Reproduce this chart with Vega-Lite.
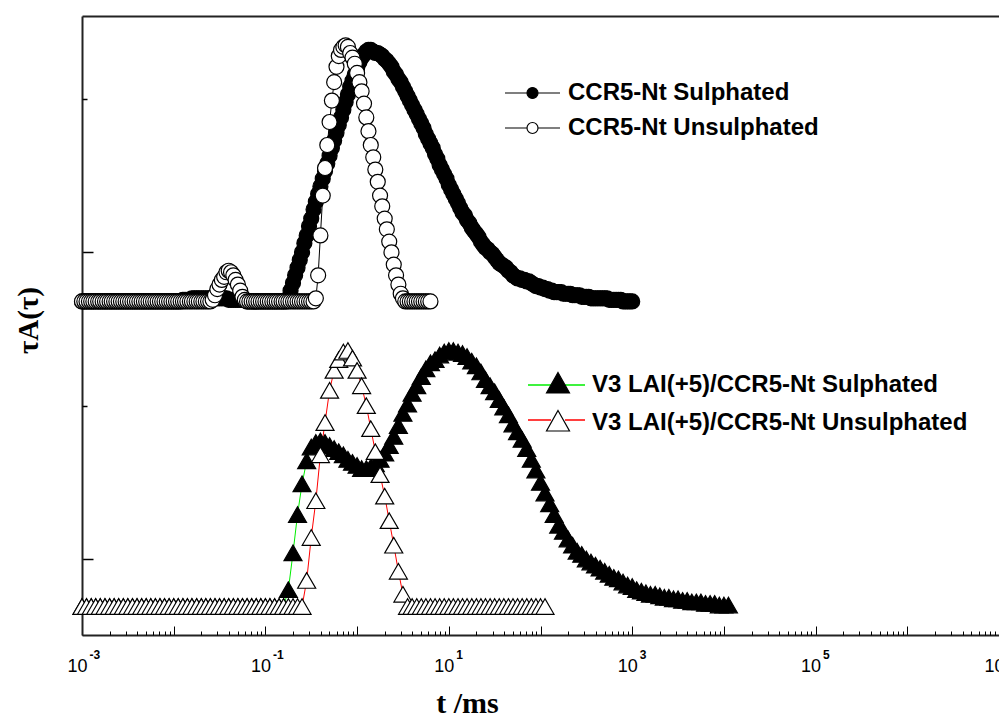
{
"$schema": "https://vega.github.io/schema/vega-lite/v6.json",
"width": 917, "height": 619,
"autosize": {"type": "none"},
"padding": {"left": 82, "top": 16, "right": 0, "bottom": 84},
"background": "white",
"config": {
 "view": {"stroke": null},
 "axis": {"grid": false, "tickColor": "black", "labelColor": "black", "titleColor": "black", "domainColor": "#222"},
 "legend": {"labelFont": "Liberation Sans", "labelFontWeight": "bold", "labelFontSize": 24, "labelColor": "black", "padding": 0, "rowPadding": 11, "symbolSize": 400, "symbolStrokeWidth": 1, "symbolOffset": 0, "labelLimit": 600, "orient": "none", "titlePadding": 0}
},
"data": {"values": [
{"s":"A","t":1e-3,"v":1.68},{"s":"A","t":1.06e-3,"v":1.68},{"s":"A","t":1.12e-3,"v":1.68},{"s":"A","t":1.19e-3,"v":1.68},{"s":"A","t":1.26e-3,"v":1.68},{"s":"A","t":1.33e-3,"v":1.68},{"s":"A","t":1.41e-3,"v":1.68},{"s":"A","t":1.5e-3,"v":1.68},{"s":"A","t":1.58e-3,"v":1.68},{"s":"A","t":1.68e-3,"v":1.68},
{"s":"A","t":1.78e-3,"v":1.68},{"s":"A","t":1.88e-3,"v":1.68},{"s":"A","t":2e-3,"v":1.68},{"s":"A","t":2.11e-3,"v":1.68},{"s":"A","t":2.24e-3,"v":1.68},{"s":"A","t":2.37e-3,"v":1.68},{"s":"A","t":2.51e-3,"v":1.68},{"s":"A","t":2.66e-3,"v":1.68},{"s":"A","t":2.82e-3,"v":1.68},{"s":"A","t":2.99e-3,"v":1.68},
{"s":"A","t":3.16e-3,"v":1.68},{"s":"A","t":3.35e-3,"v":1.68},{"s":"A","t":3.55e-3,"v":1.68},{"s":"A","t":3.76e-3,"v":1.68},{"s":"A","t":3.98e-3,"v":1.68},{"s":"A","t":4.22e-3,"v":1.68},{"s":"A","t":4.47e-3,"v":1.68},{"s":"A","t":4.73e-3,"v":1.68},{"s":"A","t":5.01e-3,"v":1.68},{"s":"A","t":5.31e-3,"v":1.68},
{"s":"A","t":5.62e-3,"v":1.68},{"s":"A","t":5.96e-3,"v":1.68},{"s":"A","t":6.31e-3,"v":1.68},{"s":"A","t":6.68e-3,"v":1.68},{"s":"A","t":7.08e-3,"v":1.68},{"s":"A","t":7.5e-3,"v":1.68},{"s":"A","t":7.94e-3,"v":1.68},{"s":"A","t":8.41e-3,"v":1.68},{"s":"A","t":8.91e-3,"v":1.68},{"s":"A","t":9.44e-3,"v":1.68},
{"s":"A","t":1e-2,"v":1.68},{"s":"A","t":1.06e-2,"v":1.68},{"s":"A","t":1.12e-2,"v":1.68},{"s":"A","t":1.19e-2,"v":1.68},{"s":"A","t":1.26e-2,"v":1.69},{"s":"A","t":1.33e-2,"v":1.69},{"s":"A","t":1.41e-2,"v":1.69},{"s":"A","t":1.5e-2,"v":1.69},{"s":"A","t":1.58e-2,"v":1.70},{"s":"A","t":1.68e-2,"v":1.70},
{"s":"A","t":1.78e-2,"v":1.70},{"s":"A","t":1.88e-2,"v":1.70},{"s":"A","t":2e-2,"v":1.70},{"s":"A","t":2.11e-2,"v":1.70},{"s":"A","t":2.24e-2,"v":1.70},{"s":"A","t":2.37e-2,"v":1.70},{"s":"A","t":2.51e-2,"v":1.70},{"s":"A","t":2.66e-2,"v":1.70},{"s":"A","t":2.82e-2,"v":1.70},{"s":"A","t":2.99e-2,"v":1.70},
{"s":"A","t":3.16e-2,"v":1.70},{"s":"A","t":3.35e-2,"v":1.70},{"s":"A","t":3.55e-2,"v":1.70},{"s":"A","t":3.76e-2,"v":1.70},{"s":"A","t":3.98e-2,"v":1.69},{"s":"A","t":4.22e-2,"v":1.69},{"s":"A","t":4.47e-2,"v":1.69},{"s":"A","t":4.73e-2,"v":1.69},{"s":"A","t":5.01e-2,"v":1.69},{"s":"A","t":5.31e-2,"v":1.69},
{"s":"A","t":5.62e-2,"v":1.69},{"s":"A","t":5.96e-2,"v":1.69},{"s":"A","t":6.31e-2,"v":1.68},{"s":"A","t":6.68e-2,"v":1.68},{"s":"A","t":7.08e-2,"v":1.68},{"s":"A","t":7.5e-2,"v":1.68},{"s":"A","t":7.94e-2,"v":1.68},{"s":"A","t":8.41e-2,"v":1.68},{"s":"A","t":8.91e-2,"v":1.68},{"s":"A","t":9.44e-2,"v":1.68},
{"s":"A","t":1e-1,"v":1.68},{"s":"A","t":1.06e-1,"v":1.68},{"s":"A","t":1.12e-1,"v":1.68},{"s":"A","t":1.19e-1,"v":1.68},{"s":"A","t":1.26e-1,"v":1.68},{"s":"A","t":1.33e-1,"v":1.68},{"s":"A","t":1.41e-1,"v":1.68},{"s":"A","t":1.5e-1,"v":1.68},{"s":"A","t":1.58e-1,"v":1.68},{"s":"A","t":1.68e-1,"v":1.68},
{"s":"A","t":1.78e-1,"v":1.70},{"s":"A","t":1.88e-1,"v":1.75},{"s":"A","t":2e-1,"v":1.80},{"s":"A","t":2.11e-1,"v":1.85},{"s":"A","t":2.24e-1,"v":1.90},{"s":"A","t":2.37e-1,"v":1.95},{"s":"A","t":2.51e-1,"v":2.00},{"s":"A","t":2.66e-1,"v":2.06},{"s":"A","t":2.82e-1,"v":2.11},{"s":"A","t":2.99e-1,"v":2.17},
{"s":"A","t":3.16e-1,"v":2.22},{"s":"A","t":3.35e-1,"v":2.28},{"s":"A","t":3.55e-1,"v":2.33},{"s":"A","t":3.76e-1,"v":2.38},{"s":"A","t":3.98e-1,"v":2.43},{"s":"A","t":4.22e-1,"v":2.48},{"s":"A","t":4.47e-1,"v":2.53},{"s":"A","t":4.73e-1,"v":2.58},{"s":"A","t":5.01e-1,"v":2.63},{"s":"A","t":5.31e-1,"v":2.68},
{"s":"A","t":5.62e-1,"v":2.73},{"s":"A","t":5.96e-1,"v":2.78},{"s":"A","t":6.31e-1,"v":2.83},{"s":"A","t":6.68e-1,"v":2.88},{"s":"A","t":7.08e-1,"v":2.93},{"s":"A","t":7.5e-1,"v":2.98},{"s":"A","t":7.94e-1,"v":3.03},{"s":"A","t":8.41e-1,"v":3.08},{"s":"A","t":8.91e-1,"v":3.12},{"s":"A","t":9.44e-1,"v":3.16},
{"s":"A","t":1e0,"v":3.20},{"s":"A","t":1.06e0,"v":3.24},{"s":"A","t":1.12e0,"v":3.27},{"s":"A","t":1.19e0,"v":3.29},{"s":"A","t":1.26e0,"v":3.31},{"s":"A","t":1.33e0,"v":3.32},{"s":"A","t":1.41e0,"v":3.32},{"s":"A","t":1.5e0,"v":3.31},{"s":"A","t":1.58e0,"v":3.30},{"s":"A","t":1.68e0,"v":3.30},
{"s":"A","t":1.78e0,"v":3.29},{"s":"A","t":1.88e0,"v":3.28},{"s":"A","t":2e0,"v":3.26},{"s":"A","t":2.11e0,"v":3.25},{"s":"A","t":2.24e0,"v":3.23},{"s":"A","t":2.37e0,"v":3.21},{"s":"A","t":2.51e0,"v":3.18},{"s":"A","t":2.66e0,"v":3.16},{"s":"A","t":2.82e0,"v":3.13},{"s":"A","t":2.99e0,"v":3.11},
{"s":"A","t":3.16e0,"v":3.08},{"s":"A","t":3.35e0,"v":3.05},{"s":"A","t":3.55e0,"v":3.02},{"s":"A","t":3.76e0,"v":2.99},{"s":"A","t":3.98e0,"v":2.96},{"s":"A","t":4.22e0,"v":2.93},{"s":"A","t":4.47e0,"v":2.90},{"s":"A","t":4.73e0,"v":2.87},{"s":"A","t":5.01e0,"v":2.84},{"s":"A","t":5.31e0,"v":2.81},
{"s":"A","t":5.62e0,"v":2.77},{"s":"A","t":5.96e0,"v":2.74},{"s":"A","t":6.31e0,"v":2.71},{"s":"A","t":6.68e0,"v":2.68},{"s":"A","t":7.08e0,"v":2.64},{"s":"A","t":7.5e0,"v":2.61},{"s":"A","t":7.94e0,"v":2.57},{"s":"A","t":8.41e0,"v":2.54},{"s":"A","t":8.91e0,"v":2.51},{"s":"A","t":9.44e0,"v":2.48},
{"s":"A","t":1e1,"v":2.44},{"s":"A","t":1.06e1,"v":2.41},{"s":"A","t":1.12e1,"v":2.38},{"s":"A","t":1.19e1,"v":2.35},{"s":"A","t":1.26e1,"v":2.32},{"s":"A","t":1.33e1,"v":2.29},{"s":"A","t":1.41e1,"v":2.26},{"s":"A","t":1.5e1,"v":2.24},{"s":"A","t":1.58e1,"v":2.21},{"s":"A","t":1.68e1,"v":2.19},
{"s":"A","t":1.78e1,"v":2.16},{"s":"A","t":1.88e1,"v":2.14},{"s":"A","t":2e1,"v":2.12},{"s":"A","t":2.11e1,"v":2.10},{"s":"A","t":2.24e1,"v":2.07},{"s":"A","t":2.37e1,"v":2.05},{"s":"A","t":2.51e1,"v":2.03},{"s":"A","t":2.66e1,"v":2.02},{"s":"A","t":2.82e1,"v":2.00},{"s":"A","t":2.99e1,"v":1.99},
{"s":"A","t":3.16e1,"v":1.97},{"s":"A","t":3.35e1,"v":1.95},{"s":"A","t":3.55e1,"v":1.93},{"s":"A","t":3.76e1,"v":1.92},{"s":"A","t":3.98e1,"v":1.91},{"s":"A","t":4.22e1,"v":1.90},{"s":"A","t":4.47e1,"v":1.88},{"s":"A","t":4.73e1,"v":1.87},{"s":"A","t":5.01e1,"v":1.85},{"s":"A","t":5.31e1,"v":1.84},
{"s":"A","t":5.62e1,"v":1.83},{"s":"A","t":5.96e1,"v":1.83},{"s":"A","t":6.31e1,"v":1.82},{"s":"A","t":6.68e1,"v":1.82},{"s":"A","t":7.08e1,"v":1.81},{"s":"A","t":7.5e1,"v":1.81},{"s":"A","t":7.94e1,"v":1.80},{"s":"A","t":8.41e1,"v":1.79},{"s":"A","t":8.91e1,"v":1.78},{"s":"A","t":9.44e1,"v":1.78},
{"s":"A","t":1e2,"v":1.77},{"s":"A","t":1.06e2,"v":1.77},{"s":"A","t":1.12e2,"v":1.76},{"s":"A","t":1.19e2,"v":1.76},{"s":"A","t":1.26e2,"v":1.75},{"s":"A","t":1.33e2,"v":1.75},{"s":"A","t":1.41e2,"v":1.74},{"s":"A","t":1.5e2,"v":1.74},{"s":"A","t":1.58e2,"v":1.74},{"s":"A","t":1.68e2,"v":1.74},
{"s":"A","t":1.78e2,"v":1.73},{"s":"A","t":1.88e2,"v":1.73},{"s":"A","t":2e2,"v":1.73},{"s":"A","t":2.11e2,"v":1.73},{"s":"A","t":2.24e2,"v":1.72},{"s":"A","t":2.37e2,"v":1.72},{"s":"A","t":2.51e2,"v":1.72},{"s":"A","t":2.66e2,"v":1.72},{"s":"A","t":2.82e2,"v":1.71},{"s":"A","t":2.99e2,"v":1.71},
{"s":"A","t":3.16e2,"v":1.71},{"s":"A","t":3.35e2,"v":1.71},{"s":"A","t":3.55e2,"v":1.70},{"s":"A","t":3.76e2,"v":1.70},{"s":"A","t":3.98e2,"v":1.70},{"s":"A","t":4.22e2,"v":1.70},{"s":"A","t":4.47e2,"v":1.70},{"s":"A","t":4.73e2,"v":1.70},{"s":"A","t":5.01e2,"v":1.70},{"s":"A","t":5.31e2,"v":1.70},
{"s":"A","t":5.62e2,"v":1.69},{"s":"A","t":5.96e2,"v":1.69},{"s":"A","t":6.31e2,"v":1.69},{"s":"A","t":6.68e2,"v":1.69},{"s":"A","t":7.08e2,"v":1.69},{"s":"A","t":7.5e2,"v":1.69},{"s":"A","t":7.94e2,"v":1.68},{"s":"A","t":8.41e2,"v":1.68},{"s":"A","t":8.91e2,"v":1.68},{"s":"A","t":9.44e2,"v":1.68},
{"s":"A","t":1e3,"v":1.68},
{"s":"B","t":1e-3,"v":1.68},{"s":"B","t":1.06e-3,"v":1.68},{"s":"B","t":1.12e-3,"v":1.68},{"s":"B","t":1.19e-3,"v":1.68},{"s":"B","t":1.26e-3,"v":1.68},{"s":"B","t":1.33e-3,"v":1.68},{"s":"B","t":1.41e-3,"v":1.68},{"s":"B","t":1.5e-3,"v":1.68},{"s":"B","t":1.58e-3,"v":1.68},{"s":"B","t":1.68e-3,"v":1.68},
{"s":"B","t":1.78e-3,"v":1.68},{"s":"B","t":1.88e-3,"v":1.68},{"s":"B","t":2e-3,"v":1.68},{"s":"B","t":2.11e-3,"v":1.68},{"s":"B","t":2.24e-3,"v":1.68},{"s":"B","t":2.37e-3,"v":1.68},{"s":"B","t":2.51e-3,"v":1.68},{"s":"B","t":2.66e-3,"v":1.68},{"s":"B","t":2.82e-3,"v":1.68},{"s":"B","t":2.99e-3,"v":1.68},
{"s":"B","t":3.16e-3,"v":1.68},{"s":"B","t":3.35e-3,"v":1.68},{"s":"B","t":3.55e-3,"v":1.68},{"s":"B","t":3.76e-3,"v":1.68},{"s":"B","t":3.98e-3,"v":1.68},{"s":"B","t":4.22e-3,"v":1.68},{"s":"B","t":4.47e-3,"v":1.68},{"s":"B","t":4.73e-3,"v":1.68},{"s":"B","t":5.01e-3,"v":1.68},{"s":"B","t":5.31e-3,"v":1.68},
{"s":"B","t":5.62e-3,"v":1.68},{"s":"B","t":5.96e-3,"v":1.68},{"s":"B","t":6.31e-3,"v":1.68},{"s":"B","t":6.68e-3,"v":1.68},{"s":"B","t":7.08e-3,"v":1.68},{"s":"B","t":7.5e-3,"v":1.68},{"s":"B","t":7.94e-3,"v":1.68},{"s":"B","t":8.41e-3,"v":1.68},{"s":"B","t":8.91e-3,"v":1.68},{"s":"B","t":9.44e-3,"v":1.68},
{"s":"B","t":1e-2,"v":1.68},{"s":"B","t":1.06e-2,"v":1.68},{"s":"B","t":1.12e-2,"v":1.68},{"s":"B","t":1.19e-2,"v":1.68},{"s":"B","t":1.26e-2,"v":1.68},{"s":"B","t":1.33e-2,"v":1.68},{"s":"B","t":1.41e-2,"v":1.68},{"s":"B","t":1.5e-2,"v":1.68},{"s":"B","t":1.58e-2,"v":1.68},{"s":"B","t":1.68e-2,"v":1.68},
{"s":"B","t":1.78e-2,"v":1.68},{"s":"B","t":1.88e-2,"v":1.68},{"s":"B","t":2e-2,"v":1.68},{"s":"B","t":2.11e-2,"v":1.68},{"s":"B","t":2.24e-2,"v":1.68},{"s":"B","t":2.37e-2,"v":1.68},{"s":"B","t":2.51e-2,"v":1.68},{"s":"B","t":2.66e-2,"v":1.69},{"s":"B","t":2.82e-2,"v":1.72},{"s":"B","t":2.99e-2,"v":1.76},
{"s":"B","t":3.16e-2,"v":1.79},{"s":"B","t":3.35e-2,"v":1.82},{"s":"B","t":3.55e-2,"v":1.84},{"s":"B","t":3.76e-2,"v":1.87},{"s":"B","t":3.98e-2,"v":1.88},{"s":"B","t":4.22e-2,"v":1.87},{"s":"B","t":4.47e-2,"v":1.85},{"s":"B","t":4.73e-2,"v":1.82},{"s":"B","t":5.01e-2,"v":1.79},{"s":"B","t":5.31e-2,"v":1.75},
{"s":"B","t":5.62e-2,"v":1.71},{"s":"B","t":5.96e-2,"v":1.69},{"s":"B","t":6.31e-2,"v":1.68},{"s":"B","t":6.68e-2,"v":1.68},{"s":"B","t":7.08e-2,"v":1.68},{"s":"B","t":7.5e-2,"v":1.68},{"s":"B","t":7.94e-2,"v":1.68},{"s":"B","t":8.41e-2,"v":1.68},{"s":"B","t":8.91e-2,"v":1.68},{"s":"B","t":9.44e-2,"v":1.68},
{"s":"B","t":1e-1,"v":1.68},{"s":"B","t":1.06e-1,"v":1.68},{"s":"B","t":1.12e-1,"v":1.68},{"s":"B","t":1.19e-1,"v":1.68},{"s":"B","t":1.26e-1,"v":1.68},{"s":"B","t":1.33e-1,"v":1.68},{"s":"B","t":1.41e-1,"v":1.68},{"s":"B","t":1.5e-1,"v":1.68},{"s":"B","t":1.58e-1,"v":1.68},{"s":"B","t":1.68e-1,"v":1.68},
{"s":"B","t":1.78e-1,"v":1.68},{"s":"B","t":1.88e-1,"v":1.68},{"s":"B","t":2e-1,"v":1.68},{"s":"B","t":2.11e-1,"v":1.68},{"s":"B","t":2.24e-1,"v":1.68},{"s":"B","t":2.37e-1,"v":1.68},{"s":"B","t":2.51e-1,"v":1.68},{"s":"B","t":2.66e-1,"v":1.68},{"s":"B","t":2.82e-1,"v":1.68},{"s":"B","t":2.99e-1,"v":1.68},
{"s":"B","t":3.16e-1,"v":1.68},{"s":"B","t":3.35e-1,"v":1.68},{"s":"B","t":3.55e-1,"v":1.70},{"s":"B","t":3.76e-1,"v":1.85},{"s":"B","t":3.98e-1,"v":2.11},{"s":"B","t":4.22e-1,"v":2.37},{"s":"B","t":4.47e-1,"v":2.55},{"s":"B","t":4.73e-1,"v":2.70},{"s":"B","t":5.01e-1,"v":2.85},{"s":"B","t":5.31e-1,"v":2.99},
{"s":"B","t":5.62e-1,"v":3.11},{"s":"B","t":5.96e-1,"v":3.21},{"s":"B","t":6.31e-1,"v":3.28},{"s":"B","t":6.68e-1,"v":3.32},{"s":"B","t":7.08e-1,"v":3.34},{"s":"B","t":7.5e-1,"v":3.35},{"s":"B","t":7.94e-1,"v":3.34},{"s":"B","t":8.41e-1,"v":3.30},{"s":"B","t":8.91e-1,"v":3.27},{"s":"B","t":9.44e-1,"v":3.23},
{"s":"B","t":1e0,"v":3.17},{"s":"B","t":1.06e0,"v":3.11},{"s":"B","t":1.12e0,"v":3.05},{"s":"B","t":1.19e0,"v":2.97},{"s":"B","t":1.26e0,"v":2.88},{"s":"B","t":1.33e0,"v":2.79},{"s":"B","t":1.41e0,"v":2.70},{"s":"B","t":1.5e0,"v":2.62},{"s":"B","t":1.58e0,"v":2.54},{"s":"B","t":1.68e0,"v":2.46},
{"s":"B","t":1.78e0,"v":2.37},{"s":"B","t":1.88e0,"v":2.30},{"s":"B","t":2e0,"v":2.22},{"s":"B","t":2.11e0,"v":2.15},{"s":"B","t":2.24e0,"v":2.07},{"s":"B","t":2.37e0,"v":2.00},{"s":"B","t":2.51e0,"v":1.92},{"s":"B","t":2.66e0,"v":1.85},{"s":"B","t":2.82e0,"v":1.79},{"s":"B","t":2.99e0,"v":1.73},
{"s":"B","t":3.16e0,"v":1.70},{"s":"B","t":3.35e0,"v":1.68},{"s":"B","t":3.55e0,"v":1.68},{"s":"B","t":3.76e0,"v":1.68},{"s":"B","t":3.98e0,"v":1.68},{"s":"B","t":4.22e0,"v":1.68},{"s":"B","t":4.47e0,"v":1.68},{"s":"B","t":4.73e0,"v":1.68},{"s":"B","t":5.01e0,"v":1.68},{"s":"B","t":5.31e0,"v":1.68},
{"s":"B","t":5.62e0,"v":1.68},{"s":"B","t":5.96e0,"v":1.68},{"s":"B","t":6.31e0,"v":1.68},
{"s":"C","t":1e-3,"v":-0.31},{"s":"C","t":1.12e-3,"v":-0.31},{"s":"C","t":1.26e-3,"v":-0.31},{"s":"C","t":1.41e-3,"v":-0.31},{"s":"C","t":1.58e-3,"v":-0.31},{"s":"C","t":1.78e-3,"v":-0.31},{"s":"C","t":2e-3,"v":-0.31},{"s":"C","t":2.24e-3,"v":-0.31},{"s":"C","t":2.51e-3,"v":-0.31},{"s":"C","t":2.82e-3,"v":-0.31},
{"s":"C","t":3.16e-3,"v":-0.31},{"s":"C","t":3.55e-3,"v":-0.31},{"s":"C","t":3.98e-3,"v":-0.31},{"s":"C","t":4.47e-3,"v":-0.31},{"s":"C","t":5.01e-3,"v":-0.31},{"s":"C","t":5.62e-3,"v":-0.31},{"s":"C","t":6.31e-3,"v":-0.31},{"s":"C","t":7.08e-3,"v":-0.31},{"s":"C","t":7.94e-3,"v":-0.31},{"s":"C","t":8.91e-3,"v":-0.31},
{"s":"C","t":1e-2,"v":-0.31},{"s":"C","t":1.12e-2,"v":-0.31},{"s":"C","t":1.26e-2,"v":-0.31},{"s":"C","t":1.41e-2,"v":-0.31},{"s":"C","t":1.58e-2,"v":-0.31},{"s":"C","t":1.78e-2,"v":-0.31},{"s":"C","t":2e-2,"v":-0.31},{"s":"C","t":2.24e-2,"v":-0.31},{"s":"C","t":2.51e-2,"v":-0.31},{"s":"C","t":2.82e-2,"v":-0.31},
{"s":"C","t":3.16e-2,"v":-0.31},{"s":"C","t":3.55e-2,"v":-0.31},{"s":"C","t":3.98e-2,"v":-0.31},{"s":"C","t":4.47e-2,"v":-0.31},{"s":"C","t":5.01e-2,"v":-0.31},{"s":"C","t":5.62e-2,"v":-0.31},{"s":"C","t":6.31e-2,"v":-0.31},{"s":"C","t":7.08e-2,"v":-0.31},{"s":"C","t":7.94e-2,"v":-0.31},{"s":"C","t":8.91e-2,"v":-0.31},
{"s":"C","t":1e-1,"v":-0.31},{"s":"C","t":1.12e-1,"v":-0.31},{"s":"C","t":1.26e-1,"v":-0.31},{"s":"C","t":1.41e-1,"v":-0.31},{"s":"C","t":1.58e-1,"v":-0.31},{"s":"C","t":1.78e-1,"v":-0.20},{"s":"C","t":2e-1,"v":0.04},{"s":"C","t":2.24e-1,"v":0.29},{"s":"C","t":2.51e-1,"v":0.49},{"s":"C","t":2.82e-1,"v":0.64},
{"s":"C","t":3.16e-1,"v":0.73},{"s":"C","t":3.55e-1,"v":0.76},{"s":"C","t":3.98e-1,"v":0.77},{"s":"C","t":4.47e-1,"v":0.76},{"s":"C","t":5.01e-1,"v":0.74},{"s":"C","t":5.62e-1,"v":0.72},{"s":"C","t":6.31e-1,"v":0.70},{"s":"C","t":7.08e-1,"v":0.68},{"s":"C","t":7.94e-1,"v":0.65},{"s":"C","t":8.91e-1,"v":0.63},
{"s":"C","t":1e0,"v":0.61},{"s":"C","t":1.12e0,"v":0.59},{"s":"C","t":1.26e0,"v":0.59},{"s":"C","t":1.41e0,"v":0.60},{"s":"C","t":1.58e0,"v":0.62},{"s":"C","t":1.78e0,"v":0.65},{"s":"C","t":2e0,"v":0.69},{"s":"C","t":2.24e0,"v":0.74},{"s":"C","t":2.51e0,"v":0.80},{"s":"C","t":2.82e0,"v":0.87},
{"s":"C","t":3.16e0,"v":0.95},{"s":"C","t":3.55e0,"v":1.01},{"s":"C","t":3.98e0,"v":1.08},{"s":"C","t":4.47e0,"v":1.13},{"s":"C","t":5.01e0,"v":1.19},{"s":"C","t":5.62e0,"v":1.24},{"s":"C","t":6.31e0,"v":1.28},{"s":"C","t":7.08e0,"v":1.30},{"s":"C","t":7.94e0,"v":1.33},{"s":"C","t":8.91e0,"v":1.35},
{"s":"C","t":1e1,"v":1.36},{"s":"C","t":1.12e1,"v":1.36},{"s":"C","t":1.26e1,"v":1.35},{"s":"C","t":1.41e1,"v":1.34},{"s":"C","t":1.58e1,"v":1.32},{"s":"C","t":1.78e1,"v":1.29},{"s":"C","t":2e1,"v":1.26},{"s":"C","t":2.24e1,"v":1.22},{"s":"C","t":2.51e1,"v":1.17},{"s":"C","t":2.82e1,"v":1.13},
{"s":"C","t":3.16e1,"v":1.09},{"s":"C","t":3.55e1,"v":1.04},{"s":"C","t":3.98e1,"v":0.99},{"s":"C","t":4.47e1,"v":0.94},{"s":"C","t":5.01e1,"v":0.88},{"s":"C","t":5.62e1,"v":0.83},{"s":"C","t":6.31e1,"v":0.78},{"s":"C","t":7.08e1,"v":0.72},{"s":"C","t":7.94e1,"v":0.65},{"s":"C","t":8.91e1,"v":0.58},
{"s":"C","t":1e2,"v":0.50},{"s":"C","t":1.12e2,"v":0.43},{"s":"C","t":1.26e2,"v":0.36},{"s":"C","t":1.41e2,"v":0.29},{"s":"C","t":1.58e2,"v":0.22},{"s":"C","t":1.78e2,"v":0.18},{"s":"C","t":2e2,"v":0.13},{"s":"C","t":2.24e2,"v":0.09},{"s":"C","t":2.51e2,"v":0.05},{"s":"C","t":2.82e2,"v":0.03},
{"s":"C","t":3.16e2,"v":0.00},{"s":"C","t":3.55e2,"v":-0.02},{"s":"C","t":3.98e2,"v":-0.04},{"s":"C","t":4.47e2,"v":-0.06},{"s":"C","t":5.01e2,"v":-0.08},{"s":"C","t":5.62e2,"v":-0.10},{"s":"C","t":6.31e2,"v":-0.12},{"s":"C","t":7.08e2,"v":-0.13},{"s":"C","t":7.94e2,"v":-0.15},{"s":"C","t":8.91e2,"v":-0.17},
{"s":"C","t":1e3,"v":-0.18},{"s":"C","t":1.12e3,"v":-0.20},{"s":"C","t":1.26e3,"v":-0.21},{"s":"C","t":1.41e3,"v":-0.22},{"s":"C","t":1.58e3,"v":-0.23},{"s":"C","t":1.78e3,"v":-0.23},{"s":"C","t":2e3,"v":-0.24},{"s":"C","t":2.24e3,"v":-0.25},{"s":"C","t":2.51e3,"v":-0.25},{"s":"C","t":2.82e3,"v":-0.26},
{"s":"C","t":3.16e3,"v":-0.26},{"s":"C","t":3.55e3,"v":-0.27},{"s":"C","t":3.98e3,"v":-0.27},{"s":"C","t":4.47e3,"v":-0.28},{"s":"C","t":5.01e3,"v":-0.28},{"s":"C","t":5.62e3,"v":-0.28},{"s":"C","t":6.31e3,"v":-0.29},{"s":"C","t":7.08e3,"v":-0.29},{"s":"C","t":7.94e3,"v":-0.29},{"s":"C","t":8.91e3,"v":-0.30},
{"s":"C","t":1e4,"v":-0.30},{"s":"C","t":1.12e4,"v":-0.30},
{"s":"D","t":1e-3,"v":-0.31},{"s":"D","t":1.12e-3,"v":-0.31},{"s":"D","t":1.26e-3,"v":-0.31},{"s":"D","t":1.41e-3,"v":-0.31},{"s":"D","t":1.58e-3,"v":-0.31},{"s":"D","t":1.78e-3,"v":-0.31},{"s":"D","t":2e-3,"v":-0.31},{"s":"D","t":2.24e-3,"v":-0.31},{"s":"D","t":2.51e-3,"v":-0.31},{"s":"D","t":2.82e-3,"v":-0.31},
{"s":"D","t":3.16e-3,"v":-0.31},{"s":"D","t":3.55e-3,"v":-0.31},{"s":"D","t":3.98e-3,"v":-0.31},{"s":"D","t":4.47e-3,"v":-0.31},{"s":"D","t":5.01e-3,"v":-0.31},{"s":"D","t":5.62e-3,"v":-0.31},{"s":"D","t":6.31e-3,"v":-0.31},{"s":"D","t":7.08e-3,"v":-0.31},{"s":"D","t":7.94e-3,"v":-0.31},{"s":"D","t":8.91e-3,"v":-0.31},
{"s":"D","t":1e-2,"v":-0.31},{"s":"D","t":1.12e-2,"v":-0.31},{"s":"D","t":1.26e-2,"v":-0.31},{"s":"D","t":1.41e-2,"v":-0.31},{"s":"D","t":1.58e-2,"v":-0.31},{"s":"D","t":1.78e-2,"v":-0.31},{"s":"D","t":2e-2,"v":-0.31},{"s":"D","t":2.24e-2,"v":-0.31},{"s":"D","t":2.51e-2,"v":-0.31},{"s":"D","t":2.82e-2,"v":-0.31},
{"s":"D","t":3.16e-2,"v":-0.31},{"s":"D","t":3.55e-2,"v":-0.31},{"s":"D","t":3.98e-2,"v":-0.31},{"s":"D","t":4.47e-2,"v":-0.31},{"s":"D","t":5.01e-2,"v":-0.31},{"s":"D","t":5.62e-2,"v":-0.31},{"s":"D","t":6.31e-2,"v":-0.31},{"s":"D","t":7.08e-2,"v":-0.31},{"s":"D","t":7.94e-2,"v":-0.31},{"s":"D","t":8.91e-2,"v":-0.31},
{"s":"D","t":1e-1,"v":-0.31},{"s":"D","t":1.12e-1,"v":-0.31},{"s":"D","t":1.26e-1,"v":-0.31},{"s":"D","t":1.41e-1,"v":-0.31},{"s":"D","t":1.58e-1,"v":-0.31},{"s":"D","t":1.78e-1,"v":-0.31},{"s":"D","t":2e-1,"v":-0.31},{"s":"D","t":2.24e-1,"v":-0.31},{"s":"D","t":2.51e-1,"v":-0.31},{"s":"D","t":2.82e-1,"v":-0.14},
{"s":"D","t":3.16e-1,"v":0.14},{"s":"D","t":3.55e-1,"v":0.38},{"s":"D","t":3.98e-1,"v":0.68},{"s":"D","t":4.47e-1,"v":0.89},{"s":"D","t":5.01e-1,"v":1.10},{"s":"D","t":5.62e-1,"v":1.23},{"s":"D","t":6.31e-1,"v":1.30},{"s":"D","t":7.08e-1,"v":1.35},{"s":"D","t":7.94e-1,"v":1.36},{"s":"D","t":8.91e-1,"v":1.31},
{"s":"D","t":1e0,"v":1.23},{"s":"D","t":1.12e0,"v":1.13},{"s":"D","t":1.26e0,"v":1.00},{"s":"D","t":1.41e0,"v":0.85},{"s":"D","t":1.58e0,"v":0.70},{"s":"D","t":1.78e0,"v":0.55},{"s":"D","t":2e0,"v":0.41},{"s":"D","t":2.24e0,"v":0.25},{"s":"D","t":2.51e0,"v":0.09},{"s":"D","t":2.82e0,"v":-0.08},
{"s":"D","t":3.16e0,"v":-0.23},{"s":"D","t":3.55e0,"v":-0.31},{"s":"D","t":3.98e0,"v":-0.31},{"s":"D","t":4.47e0,"v":-0.31},{"s":"D","t":5.01e0,"v":-0.31},{"s":"D","t":5.62e0,"v":-0.31},{"s":"D","t":6.31e0,"v":-0.31},{"s":"D","t":7.08e0,"v":-0.31},{"s":"D","t":7.94e0,"v":-0.31},{"s":"D","t":8.91e0,"v":-0.31},
{"s":"D","t":1e1,"v":-0.31},{"s":"D","t":1.12e1,"v":-0.31},{"s":"D","t":1.26e1,"v":-0.31},{"s":"D","t":1.41e1,"v":-0.31},{"s":"D","t":1.58e1,"v":-0.31},{"s":"D","t":1.78e1,"v":-0.31},{"s":"D","t":2e1,"v":-0.31},{"s":"D","t":2.24e1,"v":-0.31},{"s":"D","t":2.51e1,"v":-0.31},{"s":"D","t":2.82e1,"v":-0.31},
{"s":"D","t":3.16e1,"v":-0.31},{"s":"D","t":3.55e1,"v":-0.31},{"s":"D","t":3.98e1,"v":-0.31},{"s":"D","t":4.47e1,"v":-0.31},{"s":"D","t":5.01e1,"v":-0.31},{"s":"D","t":5.62e1,"v":-0.31},{"s":"D","t":6.31e1,"v":-0.31},{"s":"D","t":7.08e1,"v":-0.31},{"s":"D","t":7.94e1,"v":-0.31},{"s":"D","t":8.91e1,"v":-0.31},
{"s":"D","t":1e2,"v":-0.31},{"s":"D","t":1.12e2,"v":-0.31}
]},
"layer": [
 {
  "transform": [{"filter": "datum.s === 'A'"}],
  "mark": {"type": "line", "stroke": "black", "strokeWidth": 1},
  "encoding": {
   "x": {"field": "t", "type": "quantitative", "scale": {"type": "log", "domain": [0.001, 10000000], "nice": false},
         "axis": {"orient": "bottom", "values": [1e-3,1e-2,1e-1,1e0,1e1,1e2,1e3,1e4,1e5,1e6,1e7], "tickSize": -9, "tickWidth": 1, "labels": false, "domain": true, "domainWidth": 2, "title": null}},
   "y": {"field": "v", "type": "quantitative", "scale": {"domain": [-0.4957, 3.5414], "nice": false, "zero": false},
         "axis": {"orient": "left", "values": [0, 2], "tickSize": -11, "tickWidth": 1.5, "labels": false, "domain": true, "domainWidth": 2,
                  "title": "τA(τ)", "titleFont": "Liberation Serif", "titleFontSize": 29, "titleFontWeight": "bold", "titleX": -54, "titleY": 304, "titleAlign": "center", "titleBaseline": "middle"}}
  }
 },
 {
  "transform": [{"filter": "datum.s === 'B'"}],
  "mark": {"type": "line", "stroke": "black", "strokeWidth": 1},
  "encoding": {
   "x": {"field": "t", "type": "quantitative", "scale": {"type": "log", "domain": [0.001, 10000000], "nice": false},
         "axis": {"orient": "bottom", "values": [2e-3,3e-3,4e-3,5e-3,6e-3,7e-3,8e-3,9e-3,2e-2,3e-2,4e-2,5e-2,6e-2,7e-2,8e-2,9e-2,2e-1,3e-1,4e-1,5e-1,6e-1,7e-1,8e-1,9e-1,2,3,4,5,6,7,8,9,20,30,40,50,60,70,80,90,200,300,400,500,600,700,800,900,2e3,3e3,4e3,5e3,6e3,7e3,8e3,9e3,2e4,3e4,4e4,5e4,6e4,7e4,8e4,9e4,2e5,3e5,4e5,5e5,6e5,7e5,8e5,9e5,2e6,3e6,4e6,5e6,6e6,7e6,8e6,9e6], "tickSize": -4, "tickWidth": 1, "labels": false, "domain": false, "title": null}},
   "y": {"field": "v", "type": "quantitative", "scale": {"domain": [-0.4957, 3.5414], "nice": false, "zero": false},
         "axis": {"orient": "left", "values": [1, 3], "tickSize": -5, "tickWidth": 1.5, "labels": false, "domain": false, "title": null}}
  }
 },
 {
  "transform": [{"filter": "datum.s === 'C' || datum.s === 'D'"}],
  "mark": {"type": "line", "strokeWidth": 1},
  "encoding": {
   "x": {"field": "t", "type": "quantitative", "scale": {"type": "log", "domain": [0.001, 10000000], "nice": false},
         "axis": {"orient": "bottom", "values": [1e-3,1e-1,1e1,1e3,1e5,1e7], "ticks": false, "domain": false, "labelExpr": "'10'", "labelFont": "Liberation Sans", "labelFontSize": 18, "labelPadding": 31, "labelBaseline": "middle", "labelAlign": "center", "labelOffset": -5, "labelFlush": false, "labelOverlap": false, "labelBound": false,
                  "title": "t /ms", "titleFont": "Liberation Serif", "titleFontSize": 30, "titleFontWeight": "bold", "titleX": 385, "titleY": 77, "titleAlign": "center", "titleBaseline": "alphabetic"}},
   "y": {"field": "v", "type": "quantitative", "scale": {"domain": [-0.4957, 3.5414], "nice": false, "zero": false}, "axis": null},
   "stroke": {"field": "s", "type": "nominal", "scale": {"domain": ["C", "D"], "range": ["#00ee00", "#ff0000"]},
              "legend": {"orient": "none", "legendX": 464, "legendY": 357, "title": null, "symbolType": "M-3,0H-0.7M0.7,0H2.7", "symbolStrokeWidth": 1.5, "labelOffset": 22, "labelExpr": "''"}}
  }
 },
 {
  "transform": [{"filter": "datum.s === 'A' || datum.s === 'B'"}],
  "mark": {"type": "point", "shape": "circle", "size": 225, "filled": true, "stroke": "black", "strokeWidth": 1.2, "opacity": 1},
  "encoding": {
   "x": {"field": "t", "type": "quantitative", "scale": {"type": "log", "domain": [0.001, 10000000], "nice": false},
         "axis": {"orient": "bottom", "values": [1e-3,1e-1,1e1,1e3,1e5,1e7], "ticks": false, "domain": false, "labelExpr": "datum.value < 0.01 ? '-3' : datum.value < 1 ? '-1' : datum.value < 100 ? '1' : datum.value < 1e4 ? '3' : datum.value < 1e6 ? '5' : '7'", "labelFont": "Liberation Sans", "labelFontSize": 12, "labelFontWeight": "bold", "labelPadding": 19, "labelBaseline": "middle", "labelAlign": "left", "labelOffset": 7, "labelFlush": false, "labelOverlap": false, "labelBound": false, "title": null}},
   "y": {"field": "v", "type": "quantitative", "scale": {"domain": [-0.4957, 3.5414], "nice": false, "zero": false}, "axis": null},
   "fill": {"field": "s", "type": "nominal", "scale": {"domain": ["A", "B"], "range": ["black", "white"]},
            "legend": {"orient": "none", "legendX": 438.5, "legendY": 65, "title": null, "symbolType": "M-2.75,0H-0.55M0.55,0H2.75M-0.55,0A0.55,0.55,0,1,1,0.55,0A0.55,0.55,0,1,1,-0.55,0Z", "symbolStrokeColor": "black", "symbolStrokeWidth": 1.2, "labelOffset": 23.5,
                       "labelExpr": "datum.label === 'A' ? 'CCR5-Nt Sulphated' : 'CCR5-Nt Unsulphated'"}}
  }
 },
 {
  "transform": [{"filter": "datum.s === 'C' || datum.s === 'D'"}],
  "mark": {"type": "point", "shape": "triangle-up", "size": 324, "filled": true, "stroke": "black", "strokeWidth": 1.2, "opacity": 1},
  "encoding": {
   "x": {"field": "t", "type": "quantitative", "scale": {"type": "log", "domain": [0.001, 10000000], "nice": false},
         "axis": {"orient": "top", "ticks": false, "labels": false, "domain": true, "domainWidth": 2, "title": null}},
   "y": {"field": "v", "type": "quantitative", "scale": {"domain": [-0.4957, 3.5414], "nice": false, "zero": false}, "axis": null},
   "fill": {"field": "s", "type": "nominal", "scale": {"domain": ["C", "D"], "range": ["black", "white"]},
            "legend": {"orient": "none", "legendX": 464, "legendY": 357, "title": null, "symbolType": "M0,-1.25L1.15,0.8L-1.15,0.8Z", "symbolStrokeColor": "black", "symbolStrokeWidth": 1.2, "labelOffset": 22,
                       "labelExpr": "datum.label === 'C' ? 'V3 LAI(+5)/CCR5-Nt Sulphated' : 'V3 LAI(+5)/CCR5-Nt Unsulphated'"}}
  }
 }
],
"resolve": {"scale": {"stroke": "independent", "fill": "independent"}, "axis": {"x": "independent", "y": "independent"}, "legend": {"stroke": "independent", "fill": "independent"}}
}
